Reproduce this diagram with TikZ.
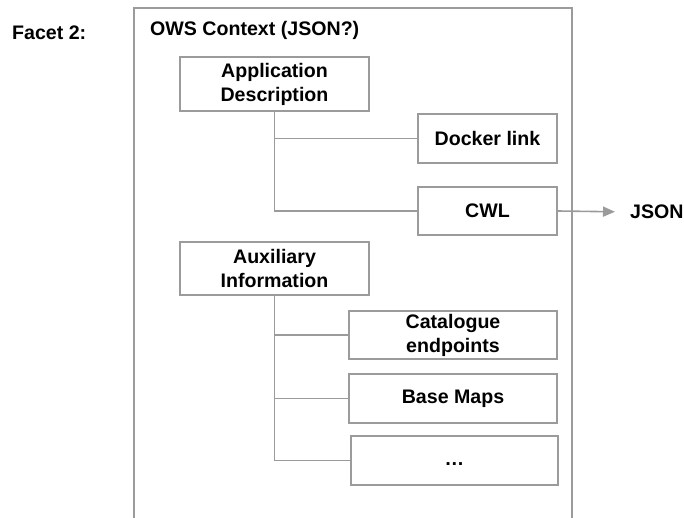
\documentclass[tikz,border=0pt]{standalone}
\usepackage{fontspec}
\setmainfont{Liberation Sans}
\usepackage{tikz}
\usetikzlibrary{arrows.meta,positioning}
\definecolor{framegray}{RGB}{155,155,155}
\tikzset{
  lbl/.style={ font=\fontsize{19.6}{24}\selectfont\bfseries, inner sep=0pt }
}
\tikzset{
  facetbox/.style={ draw=framegray, line width=1.6pt, lbl, align=center }
}
\tikzset{
  branch/.style={ draw=framegray, line width=1.6pt }
}

\begin{document}
\begin{tikzpicture}[x=1pt, y=-1pt]
      \useasboundingbox (0, 0) rectangle (684, 518);
      \node[lbl, anchor=west] (facet) at (12, 33) {Facet 2:};
      \draw[branch] (134, 530) |- (572, 8) -- (572, 530);
      \node[lbl, anchor=west] (ows) at (150, 30) {OWS Context (JSON?)};
      \node[facetbox, minimum width=189pt, minimum height=54pt] (app) at (274.5, 84) {Application\\Description};
      \node[facetbox, minimum width=139pt, minimum height=49pt] (docker) at (487.5, 138.5) {Docker link};
      \node[facetbox, minimum width=139pt, minimum height=48pt] (cwl) at (487.5, 211) {CWL};
      \node[lbl, anchor=west] (json) at (630, 212) {JSON};
      \node[facetbox, minimum width=189pt, minimum height=53pt] (aux) at (274.5, 268.5) {Auxiliary\\Information};
      \node[facetbox, minimum width=208pt, minimum height=48pt] (cat) at (453, 335) {Catalogue\\endpoints};
      \node[facetbox, minimum width=208pt, minimum height=49pt] (base) at (453, 398.5) {Base Maps};
      \node[facetbox, minimum width=207pt, minimum height=49pt] (more) at (454.5, 460.5) {\smash{\raisebox{-5pt}{\dots}}};
      \draw[branch] (app.south) |- (docker.west);
      \draw[branch] (app.south) |- (cwl.west);
      \draw[branch] (aux.south) |- (cat.west);
      \draw[branch] (aux.south) |- (base.west);
      \draw[branch] (aux.south) |- (more.west);
      \draw[branch, -{Triangle[length=12pt, width=10pt]}, fill=framegray, shorten >=15pt] (cwl.east) -- (json.west);
    \end{tikzpicture}
\end{document}
